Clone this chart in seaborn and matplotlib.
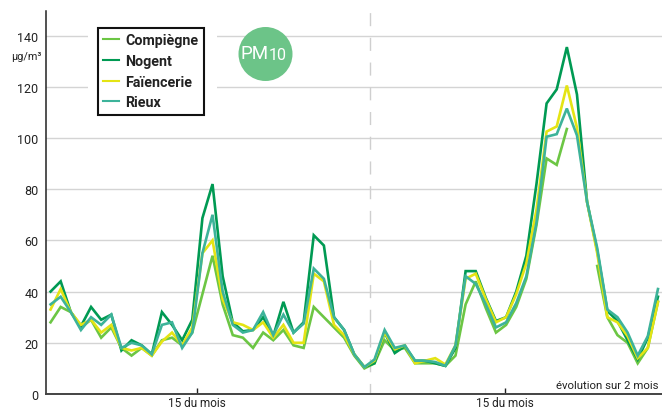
import matplotlib
matplotlib.use("Agg")
import matplotlib.pyplot as plt
from matplotlib.patches import Ellipse, Rectangle
import numpy as np
import pandas as pd
import seaborn as sns

nan = np.nan

stations = ["Compiègne", "Nogent", "Faïencerie", "Rieux"]
colors = ["#6CC644", "#009A53", "#E4E414", "#3DB39A"]

compiegne = [28, 34, 32, 26, 29, 22, 26, 18, 15, 18, 15, 21, 22, 19, 24, 39, 54, 35, 23, 22,
             18, 24, 21, 25, 19, 18, 34, 30, 26, 22, 15, 10, 12, 21, 17, 18, 12, 12, 12, 11,
             15, 35, 44, 33.5, 24, 27, 34, 45, 66, 92, 89.5, 103.5, nan, nan, 50, 30, 23, 20, 12, 18,
             36]
nogent = [40, 44, 32, 26.5, 34, 29, 31, 17, 21, 19, 15.5, 32, 27, 21, 29, 68.7, 82, 46, 28, 24.5,
          25, 30, 22.6, 36, 24, 28, 62, 58, 30, 25, 15.5, 10.5, 12, 24, 16, 18.7, 13, 13, 12, 11,
          18, 48, 48, 37.5, 28.5, 30, 40, 54, 82, 113.5, 119, 135.5, 117, 75, 56, 32.5, 28.5, 21, 13.5, 22,
          38]
faiencerie = [33, 41, 32, 27, 29, 24, 27, 18, 17, 18, 15, 20.5, 24, 19, 26, 55, 60, 37, 28, 27,
              25, 28, 22, 27, 20, 20, 47, 44, 27, 23, 15.5, 10.5, 13, 24, 17.5, 19, 12, 13, 14, 11.5,
              19, 45, 47, 37, 28, 30, 39, 51, 72, 102.5, 104.5, 120.5, 104, 75, 55, 30, 28, 22.6, 14, 18,
              36]
rieux = [35, 38, 32, 25, 30, 27, 31, 18, 20, 19, 15.5, 27, 28, 18, 24, 55, 70, 40, 27, 24,
         25, 32, 23, 31, 24, 27.5, 49, 45, 30, 25, 15.5, 10.5, 13.5, 25, 18, 19, 13, 13, 12.5, 11,
         19, 46, 43, 35, 26, 28, 35.5, 46, 67, 100.5, 101.5, 111.5, 101, 75, 57, 33, 30, 24, 15, 22.6,
         41]

y_ticks = [0, 20, 40, 60, 80, 100, 120, 140]
x_ticks = [14.5, 44.9]
x_tick_labels = ["15 du mois", "15 du mois"]

W, H = 662, 410
plt.rcParams["font.family"] = ["Roboto", "DejaVu Sans"]

# long table, segment column keeps the gap in Compiègne from being bridged
frames = []
for name, values in zip(stations, [compiegne, nogent, faiencerie, rieux]):
    s = pd.Series(values, dtype=float)
    frames.append(pd.DataFrame({"jour": range(len(s)), "pm10": s, "station": name,
                                "segment": s.isna().cumsum()}))
df = pd.concat(frames).dropna()

fig = plt.figure(figsize=(W / 100, H / 100), dpi=100)
ax = fig.add_axes([45.5 / W, 15 / H, (W - 45.5) / W, 383 / H])

ax.set_axisbelow(True)
ax.grid(axis="y", color="#D4D4D4", lw=1.0)
ax.axvline(31.55, color="#CFCFCF", lw=1, linestyle=(1.8, (9.4, 8.4)), zorder=0.6)

sns.lineplot(data=df, x="jour", y="pm10", hue="station", hue_order=stations, palette=colors,
             units="segment", estimator=None, lw=1.9, ax=ax, solid_joinstyle="miter")

ax.set_xlim(-0.5, 60.4)
ax.set_ylim(0, 149.6)
ax.set_xlabel("")
ax.set_ylabel("")
ax.set_yticks(y_ticks)
ax.set_xticks(x_ticks)
ax.set_xticklabels(x_tick_labels, fontsize=8.5, color="#222222")
ax.tick_params(axis="y", length=0, pad=5, labelsize=9, labelcolor="#222222")
ax.tick_params(axis="x", direction="in", length=4.5, width=1, color="#222222", pad=1.5)

sns.despine(ax=ax)
ax.spines["left"].set_linewidth(1.1)
ax.spines["left"].set_color("#222222")
ax.spines["bottom"].set_linewidth(1.4)
ax.spines["bottom"].set_color("#444444")

# white area that interrupts the grid behind the legend
ax.add_patch(Rectangle((88 / W, 1 - 125 / H), 129 / W, 105 / H, transform=fig.transFigure,
                       facecolor="white", edgecolor="none", zorder=1))

sns.move_legend(ax, "upper left", bbox_to_anchor=(98 / W, 1 - 29 / H), bbox_transform=fig.transFigure,
                title=None, frameon=True, fancybox=False, framealpha=1, edgecolor="#111111",
                borderaxespad=0, borderpad=0.38, handlelength=1.1, handletextpad=0.42,
                labelspacing=0.46, prop={"weight": "bold", "size": 10.3})
legend = ax.get_legend()
legend.get_frame().set_linewidth(1.5)
for text in legend.get_texts():
    text.set_color("#222222")
for line in legend.get_lines():
    line.set_linewidth(1.5)

fig.add_artist(Ellipse((265.5 / W, 1 - 55 / H), 54 / W, 54 / H, transform=fig.transFigure,
                       facecolor="#6CC488", edgecolor="none"))
fig.text(268.5 / W, 1 - 54 / H, "PM", color="white", fontsize=13.5, ha="right", va="center")
fig.text(269 / W, 1 - 55 / H, "10", color="white", fontsize=11.5, ha="left", va="center")

fig.text(41 / W, 1 - 57 / H, "µg/m³", fontsize=7.8, color="#222222", ha="right", va="center")
fig.text(659 / W, 1 - 386 / H, "évolution sur 2 mois", fontsize=8.2, color="#222222",
         ha="right", va="center")

fig.savefig("out.png", dpi=100)
